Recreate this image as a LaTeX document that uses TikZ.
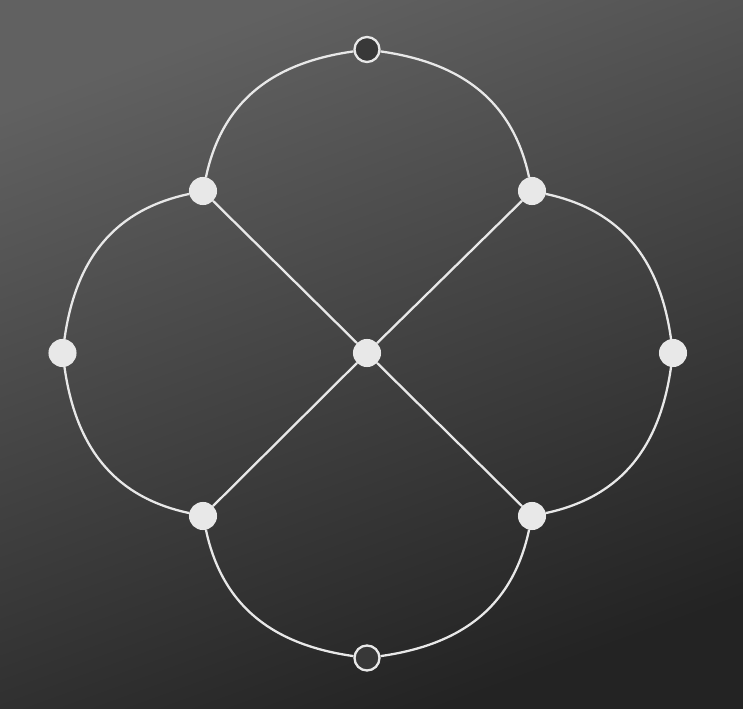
\documentclass[tikz,border=0pt]{standalone}
\usepackage{tikz}
\usetikzlibrary{calc}
\definecolor{chalk}{HTML}{E8E8E8}
\definecolor{boardtop}{HTML}{616161}
\definecolor{boardbottom}{HTML}{232323}
\definecolor{boardhole}{HTML}{383838}
\tikzstyle{dot} = [circle, fill=chalk, draw=chalk, line width=0.6pt, minimum size=0.54cm, inner sep=0pt]
\tikzstyle{hole} = [circle, fill=boardhole, draw=chalk, line width=1.3pt, minimum size=0.5cm, inner sep=0pt]
\tikzstyle{chalkline} = [line width=1.3pt, chalk, looseness=1.05]

\begin{document}
\begin{tikzpicture}[node distance=2cm]
            \shade [top color=boardtop, bottom color=boardbottom, shading angle=20] (0,0) rectangle (14.86,14.16);
            \useasboundingbox (0,0) rectangle (14.86,14.16);
            \node (c) [dot] at (7.34,7.10) {};
            \node (nw) [dot, above of = c, xshift=-3.28cm, yshift=1.24cm] {};
            \node (ne) [dot, above of = c, xshift=3.30cm, yshift=1.24cm] {};
            \node (sw) [dot, below of = c, xshift=-3.28cm, yshift=-1.26cm] {};
            \node (se) [dot, below of = c, xshift=3.30cm, yshift=-1.26cm] {};
            \node (left) [dot, left of = c, xshift=-4.09cm] {};
            \node (right) [dot, right of = c, xshift=4.12cm] {};
            \node (top) [hole, above of = c, yshift=4.07cm] {};
            \node (bottom) [hole, below of = c, yshift=-4.10cm] {};
            \draw [chalkline] (c) -- (nw);
            \draw [chalkline] (c) -- (ne);
            \draw [chalkline] (c) -- (sw);
            \draw [chalkline] (c) -- (se);
            \draw [chalkline] (nw) to[out=78, in=188] (top);
            \draw [chalkline] (top) to[out=352, in=102] (ne);
            \draw [chalkline] (nw) to[out=192, in=82] (left);
            \draw [chalkline] (left) to[out=278, in=168] (sw);
            \draw [chalkline] (sw) to[out=282, in=172] (bottom);
            \draw [chalkline] (bottom) to[out=8, in=258] (se);
            \draw [chalkline] (ne) to[out=348, in=98] (right);
            \draw [chalkline] (right) to[out=262, in=12] (se);
        \end{tikzpicture}
\end{document}
